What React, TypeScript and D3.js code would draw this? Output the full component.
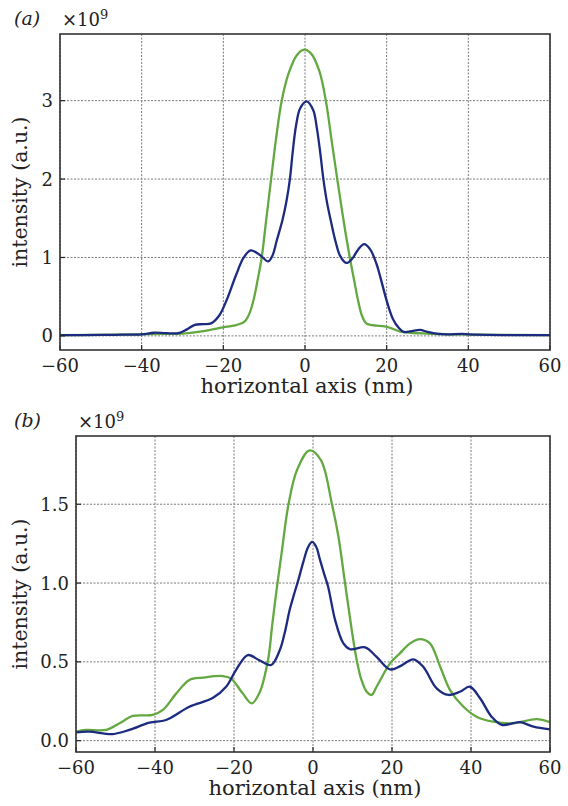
import React from "react";
import * as d3 from "d3";

// ---------- ticks ----------
const xTicks = [-60, -40, -20, 0, 20, 40, 60];
const yTicksA = [0, 1, 2, 3];
const yTicksB = [0, 0.5, 1.0, 1.5];

// ---------- data (panel a) ----------
const blueAx = [-60, -50, -45, -40, -37, -34, -31, -29, -27, -25, -23, -21, -19, -17, -15, -13.3, -11, -9, -8, -6.9, -5.5, -4.5, -3.7, -3.0, -2.2, -1.2, 0.4, 2.0, 2.9, 3.7, 4.5, 5.4, 6.4, 7.5, 8.6, 10.1, 11.5, 13, 14.5, 16, 17.5, 18.5, 20, 21.5, 23, 24.2, 26.5, 28.2, 30, 32.5, 35, 38.5, 42, 50, 60];
const blueAy = [0.01, 0.012, 0.015, 0.02, 0.04, 0.035, 0.035, 0.08, 0.14, 0.15, 0.16, 0.26, 0.48, 0.76, 1.0, 1.09, 1.03, 0.95, 1.02, 1.22, 1.48, 1.73, 2.0, 2.35, 2.68, 2.9, 2.99, 2.88, 2.65, 2.35, 2.0, 1.7, 1.45, 1.2, 1.02, 0.93, 0.98, 1.1, 1.17, 1.1, 0.92, 0.74, 0.45, 0.22, 0.1, 0.05, 0.065, 0.076, 0.05, 0.025, 0.02, 0.025, 0.015, 0.01, 0.01];

const greenAx = [-60, -45, -35, -30, -25.7, -22, -20, -17.5, -15.5, -14.5, -13.5, -12.5, -11.5, -10.6, -9.5, -8.3, -7, -5.7, -4, -2, -0.2, 1.5, 3.5, 5.1, 6.5, 7.9, 9.0, 10.0, 11.0, 12.0, 13.0, 14.0, 15.0, 16.0, 17.5, 19.5, 21, 23.3, 26, 30, 35, 60];
const greenAy = [0.01, 0.015, 0.025, 0.03, 0.055, 0.09, 0.11, 0.13, 0.16, 0.2, 0.3, 0.48, 0.74, 1.0, 1.48, 2.0, 2.55, 3.0, 3.35, 3.58, 3.65, 3.6, 3.38, 3.0, 2.5, 2.0, 1.62, 1.29, 0.99, 0.72, 0.45, 0.25, 0.16, 0.14, 0.13, 0.12, 0.1, 0.055, 0.04, 0.03, 0.02, 0.01];

// ---------- data (panel b) ----------
const blueBx = [-60, -56.6, -50.7, -46.5, -41.4, -37.2, -31.3, -25.4, -22, -19.5, -16.5, -13.6, -10.6, -8.4, -7.2, -5.9, -4.9, -3.7, -2.5, -1.2, -0.2, 0.8, 1.8, 2.8, 3.8, 4.7, 5.6, 7.7, 9.4, 13.2, 16.1, 19.5, 22.1, 25.4, 27.9, 31.3, 34.3, 37.2, 39.7, 42.3, 45.2, 47.8, 52.4, 55.8, 60];
const blueBy = [0.053, 0.057, 0.042, 0.068, 0.114, 0.131, 0.215, 0.27, 0.342, 0.448, 0.543, 0.51, 0.48, 0.575, 0.68, 0.83, 0.92, 1.02, 1.13, 1.23, 1.261, 1.23, 1.145, 1.06, 0.98, 0.87, 0.765, 0.617, 0.58, 0.592, 0.532, 0.452, 0.473, 0.516, 0.469, 0.332, 0.29, 0.31, 0.342, 0.269, 0.152, 0.1, 0.117, 0.089, 0.072];

const greenBx = [-60, -57.5, -52.4, -49, -45.6, -40.6, -38, -34.6, -31.3, -27.9, -22.9, -20.8, -17.8, -15.5, -13.6, -11.4, -10.3, -9.2, -8.0, -6.2, -4, -0.86, 2, 4.8, 6.4, 8.0, 9.7, 11.0, 12.2, 13.6, 14.8, 16.1, 19.5, 22.0, 24.6, 27.1, 29.6, 32.2, 34.7, 38.1, 41.4, 45.6, 50.7, 56.6, 60];
const greenBy = [0.057, 0.068, 0.068, 0.11, 0.157, 0.163, 0.195, 0.3, 0.385, 0.4, 0.41, 0.395, 0.3, 0.237, 0.3, 0.51, 0.74, 0.96, 1.18, 1.5, 1.72, 1.842, 1.78, 1.5, 1.3, 1.02, 0.72, 0.52, 0.39, 0.31, 0.29, 0.342, 0.49, 0.554, 0.617, 0.644, 0.617, 0.469, 0.321, 0.215, 0.152, 0.12, 0.11, 0.136, 0.117];

const BLUE = "#1c2a80";
const GREEN = "#63a840";
const FONT = "'DejaVu Serif', serif";

type PanelProps = {
  left: number; right: number; top: number; bottom: number;
  yDomain: [number, number]; yTicks: number[]; yFmt: (v: number) => string;
  label: string; series: { xs: number[]; ys: number[]; color: string }[];
};

function Panel(p: PanelProps) {
  const x = d3.scaleLinear().domain([-60, 60]).range([p.left, p.right]);
  const y = d3.scaleLinear().domain(p.yDomain).range([p.bottom, p.top]);
  const line = d3.line<[number, number]>()
    .x((d) => x(d[0]))
    .y((d) => y(d[1]))
    .curve(d3.curveCatmullRom.alpha(0.5));
  const fmtX = (v: number) => (v < 0 ? "\u2212" + Math.abs(v) : String(v));
  const clipId = "clip" + p.top;
  return (
    <g>
      <defs>
        <clipPath id={clipId}>
          <rect x={p.left} y={p.top} width={p.right - p.left} height={p.bottom - p.top} />
        </clipPath>
      </defs>
      {xTicks.map((t) => (
        <line key={"gx" + t} x1={x(t)} x2={x(t)} y1={p.top} y2={p.bottom} stroke="#7a7a7a" strokeWidth={1} strokeDasharray="2,1.5" />
      ))}
      {p.yTicks.map((t) => (
        <line key={"gy" + t} x1={p.left} x2={p.right} y1={y(t)} y2={y(t)} stroke="#7a7a7a" strokeWidth={1} strokeDasharray="2,1.5" />
      ))}
      <g clipPath={`url(#${clipId})`}>
        {p.series.map((s, i) => (
          <path key={i} d={line(s.xs.map((v, j) => [v, s.ys[j]] as [number, number])) || ""} fill="none" stroke={s.color} strokeWidth={2.3} strokeLinejoin="round" />
        ))}
      </g>
      {xTicks.map((t) => (
        <g key={"tx" + t}>
          <line x1={x(t)} x2={x(t)} y1={p.bottom} y2={p.bottom - 5} stroke="#222" strokeWidth={1.2} />
          <text x={x(t)} y={p.bottom + 22} textAnchor="middle" fontFamily={FONT} fontSize={18} fill="#222">{fmtX(t)}</text>
        </g>
      ))}
      {p.yTicks.map((t) => (
        <g key={"ty" + t}>
          <line x1={p.left} x2={p.left + 5} y1={y(t)} y2={y(t)} stroke="#222" strokeWidth={1.2} />
          <text x={p.left - 7} y={y(t)} dy="0.36em" textAnchor="end" fontFamily={FONT} fontSize={18} fill="#222">{p.yFmt(t)}</text>
        </g>
      ))}
      <rect x={p.left} y={p.top} width={p.right - p.left} height={p.bottom - p.top} fill="none" stroke="#333" strokeWidth={1.6} />
      <text x={p.left + 2} y={p.top - 8} fontFamily={FONT} fontSize={18} fill="#222">
        ×10<tspan dy={-7} fontSize={13}>9</tspan>
      </text>
      <text x={14} y={p.top - 9} fontFamily={FONT} fontSize={19} fontStyle="italic" fill="#222">{p.label}</text>
      <text transform={`translate(${27},${(p.top + p.bottom) / 2}) rotate(-90)`} textAnchor="middle" fontFamily={FONT} fontSize={20.5} fill="#222">intensity (a.u.)</text>
      <text x={(p.left + p.right) / 2 + 2} y={p.bottom + 43} textAnchor="middle" fontFamily={FONT} fontSize={21} fill="#222">horizontal axis (nm)</text>
    </g>
  );
}

export default function App() {
  return (
    <svg width={568} height={806} style={{ position: "absolute", left: 0, top: 0, background: "#fff" }}>
      <rect width={568} height={806} fill="#fff" />
      <Panel left={60} right={550} top={34} bottom={350} yDomain={[-0.18, 3.85]} yTicks={yTicksA}
        yFmt={(v) => String(v)} label="(a)"
        series={[{ xs: greenAx, ys: greenAy, color: GREEN }, { xs: blueAx, ys: blueAy, color: BLUE }]} />
      <Panel left={76} right={550} top={436} bottom={752} yDomain={[-0.072, 1.933]} yTicks={yTicksB}
        yFmt={(v) => v.toFixed(1)} label="(b)"
        series={[{ xs: greenBx, ys: greenBy, color: GREEN }, { xs: blueBx, ys: blueBy, color: BLUE }]} />
    </svg>
  );
}
